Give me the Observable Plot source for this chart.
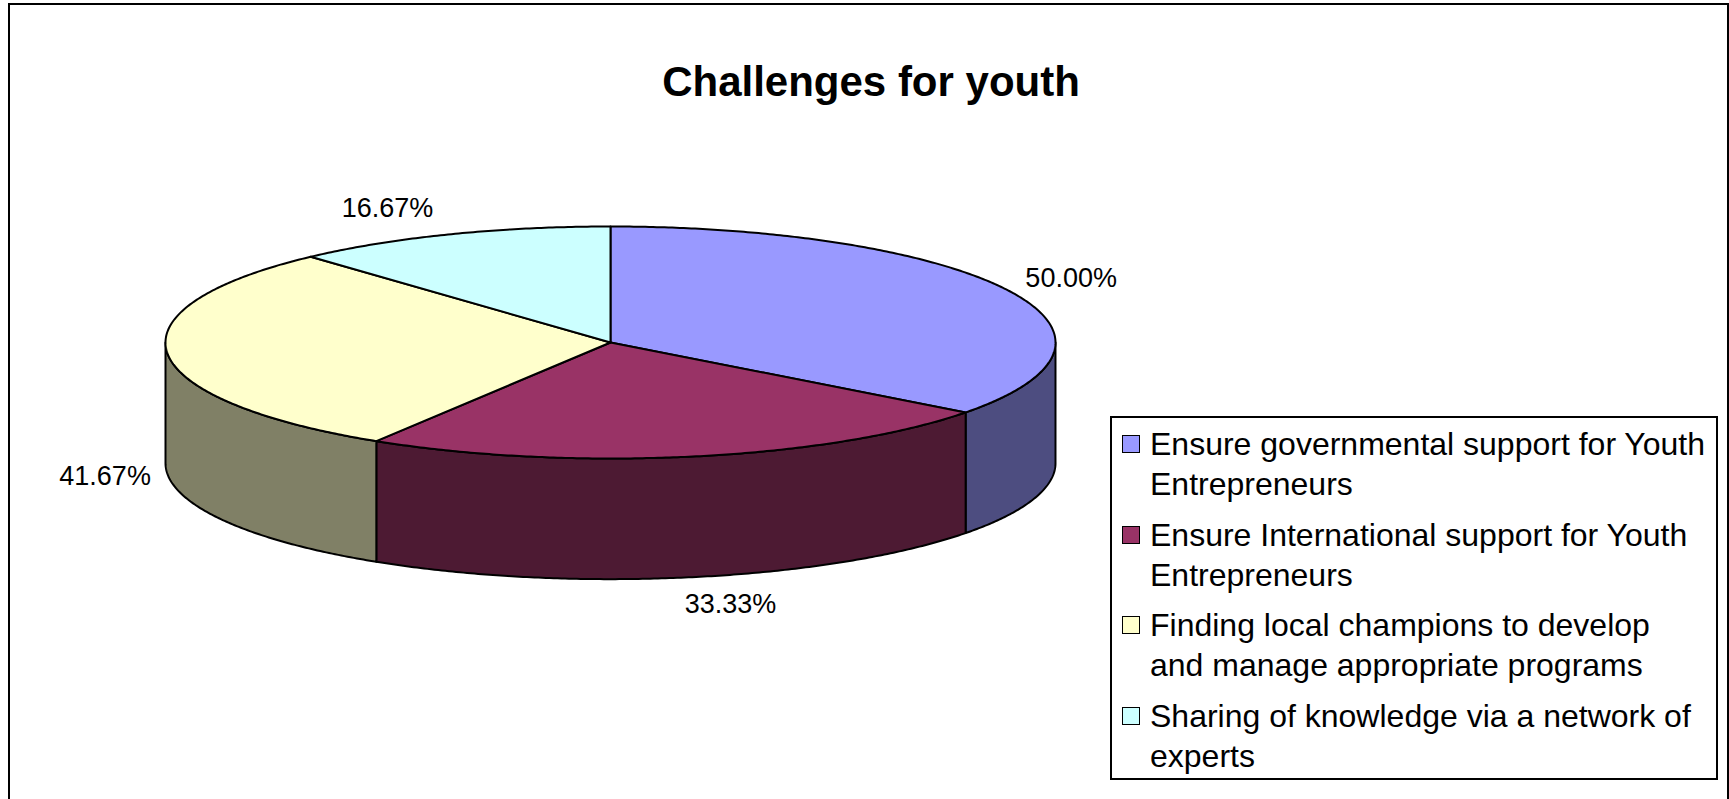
<!DOCTYPE html>
<html>
<head>
<meta charset="utf-8">
<script src="https://cdn.jsdelivr.net/npm/d3@7"></script>
<script src="https://cdn.jsdelivr.net/npm/@observablehq/plot@0.6"></script>
<style>
  html, body { margin: 0; padding: 0; background: #fff; }
  body { width: 1729px; height: 799px; overflow: hidden; position: relative;
         font-family: "Liberation Sans", Arial, sans-serif; color: #000; }
  #chart { position: absolute; left: 0; top: 0; }
  #frame { position: absolute; left: 8px; top: 3px; width: 1721px; height: 840px;
           border: 2px solid #000; border-bottom: none; box-sizing: border-box; }
  #title { position: absolute; left: 471px; width: 800px; top: 61px; text-align: center;
           font-size: 42px; font-weight: bold; line-height: 42px; white-space: nowrap; }
  #legend { position: absolute; left: 1110px; top: 416px; width: 608px; height: 364px;
            border: 2px solid #000; box-sizing: border-box; padding-top: 6px; background: #fff; }
  .item { display: flex; align-items: flex-start; margin-bottom: 10.5px; }
  .sw { width: 18px; height: 18px; box-sizing: border-box; border: 1.5px solid #000;
        margin: 11px 10px 0 10px; flex: none; }
  .lbl { font-size: 32px; line-height: 40px; white-space: nowrap; }
</style>
</head>
<body>
<div id="chart"></div>
<div id="frame"></div>
<div id="title">Challenges for youth</div>
<div id="legend"></div>
<script>
// ---- data ----
const categories = [
  "Ensure governmental support for Youth Entrepreneurs",
  "Ensure International support for Youth Entrepreneurs",
  "Finding local champions to develop and manage appropriate programs",
  "Sharing of knowledge via a network of experts"
];
const values = [50.00, 33.33, 41.67, 16.67];
const colors = ["#9999FF", "#993366", "#FFFFCC", "#CCFFFF"];
// legend line breaks (number of words on the first line)
const legendBreaks = [5, 5, 5, 7];

// ---- geometry (unit pie, clockwise from 12 o'clock) ----
const depth = 1.04; // pie thickness relative to vertical radius
const total = d3.sum(values);
let acc = 0;
const slices = categories.map((c, i) => {
  const a0 = acc / total * 2 * Math.PI;
  acc += values[i];
  const a1 = acc / total * 2 * Math.PI;
  return {cat: c, value: values[i], a0, a1};
});
const step = Math.PI / 360;
function arc(a0, a1, dy) {
  const n = Math.max(2, Math.ceil((a1 - a0) / step));
  return d3.range(n + 1).map(k => {
    const a = a0 + (a1 - a0) * k / n;
    return [Math.sin(a), Math.cos(a) - dy];
  });
}
const sideKey = c => c + " (side)";
const half = c => { const r = d3.rgb(c); return d3.rgb(r.r / 2, r.g / 2, r.b / 2).formatHex(); };

const sidePts = [];
slices.forEach(s => {
  const lo = Math.max(s.a0, Math.PI / 2), hi = Math.min(s.a1, 3 * Math.PI / 2);
  if (hi > lo) {
    const pts = [...arc(lo, hi, 0), ...arc(lo, hi, depth).reverse()];
    pts.forEach(([x, y]) => sidePts.push({id: s.cat, key: sideKey(s.cat), x, y}));
  }
});
const topPts = [];
slices.forEach(s => {
  [[0, 0], ...arc(s.a0, s.a1, 0)].forEach(([x, y]) => topPts.push({id: s.cat, key: s.cat, x, y}));
});
const labels = slices.map(s => {
  const m = (s.a0 + s.a1) / 2, sn = Math.sin(m), cs = Math.cos(m);
  return {
    x: sn + 0.14 * Math.sign(sn) * Math.min(1, Math.abs(sn) / 0.3),
    y: 1.24 * cs - (cs < 0 ? depth : 0),
    text: s.value.toFixed(2) + "%"
  };
});

const chart = Plot.plot({
  width: 1729,
  height: 799,
  margin: 0,
  x: {domain: [-1, 1], range: [165, 1055], axis: null},
  y: {domain: [1, -1 - depth], range: [226, 226 + 116 * (2 + depth)], axis: null},
  color: {
    domain: [...categories, ...categories.map(sideKey)],
    range: [...colors, ...colors.map(half)]
  },
  style: {fontFamily: '"Liberation Sans", Arial, sans-serif', background: "none"},
  marks: [
    Plot.line(sidePts, {x: "x", y: "y", z: "id", fill: "key", stroke: "#000",
      strokeWidth: 2, curve: "linear-closed", strokeLinejoin: "round"}),
    Plot.line(topPts, {x: "x", y: "y", z: "id", fill: "key", stroke: "#000",
      strokeWidth: 2, curve: "linear-closed", strokeLinejoin: "round"}),
    Plot.text(labels, {x: "x", y: "y", text: "text", fontSize: 27, fill: "#000",
      textAnchor: "middle", lineAnchor: "middle"})
  ]
});
document.getElementById("chart").appendChild(chart);

// ---- legend ----
const legend = document.getElementById("legend");
categories.forEach((c, i) => {
  const words = c.split(" ");
  const lines = [words.slice(0, legendBreaks[i]).join(" "), words.slice(legendBreaks[i]).join(" ")];
  const item = document.createElement("div");
  item.className = "item";
  const sw = document.createElement("div");
  sw.className = "sw";
  sw.style.background = colors[i];
  const lbl = document.createElement("div");
  lbl.className = "lbl";
  lines.forEach((t, k) => {
    if (k) lbl.appendChild(document.createElement("br"));
    lbl.appendChild(document.createTextNode(t));
  });
  item.appendChild(sw);
  item.appendChild(lbl);
  legend.appendChild(item);
});
</script>
</body>
</html>
